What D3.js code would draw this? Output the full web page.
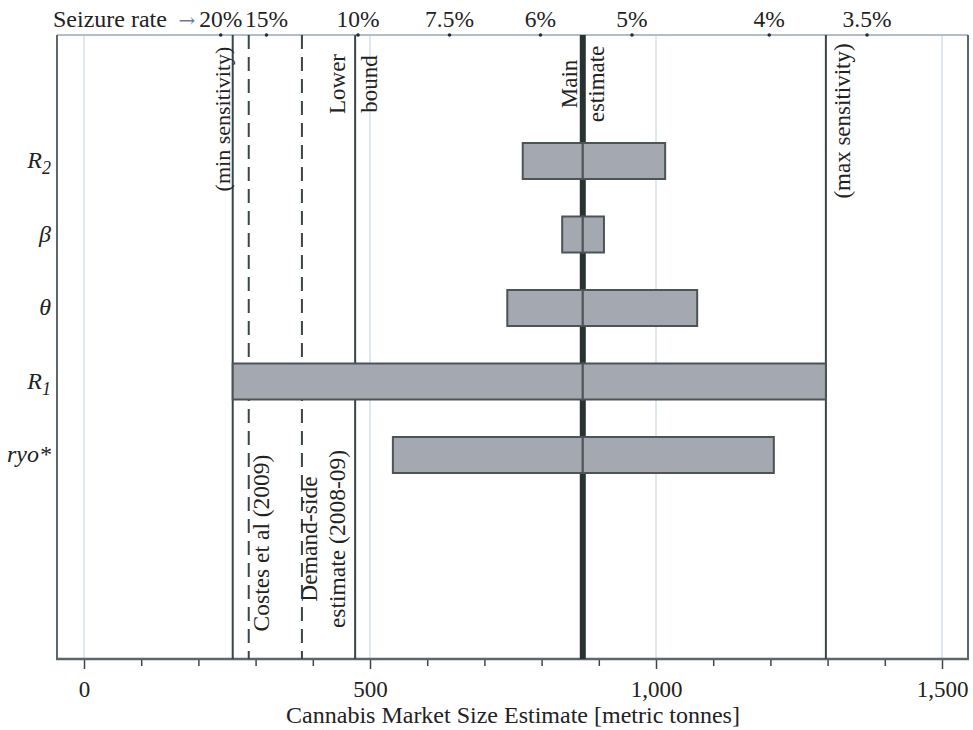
<!DOCTYPE html>
<html>
<head>
<meta charset="utf-8">
<script src="https://cdn.jsdelivr.net/npm/d3@7"></script>
<style>
  body { margin: 0; background: #fff; }
  svg text { font-family: "Liberation Serif", "DejaVu Serif", serif; fill: #222; }
</style>
</head>
<body>
<div id="chart"></div>
<script>
// parameters and their low / high market size estimates (tonnes)
var params = ['R2', 'beta', 'theta', 'R1', 'ryo'];
var paramLow = [767, 836, 740, 260, 540];
var paramHigh = [1016, 909, 1072, 1297, 1206];
var mainEstimate = 872;

// seizure-rate scale along the top (market size implied by each rate)
var seizureLabels = ['20%', '15%', '10%', '7.5%', '6%', '5%', '4%', '3.5%'];
var seizureValues = [239, 319, 479, 639, 798, 958, 1198, 1369];

// reference lines
var refNames = ['min', 'costes', 'demand', 'lower', 'max'];
var refValues = [260, 288, 381, 474, 1297];
var refDashed = [false, true, true, false, false];

var xTicks = d3.range(0, 1501, 100);
var xLabelTicks = [0, 500, 1000, 1500];

var width = 973, height = 730;
var mTop = 35, mBottom = 659, mLeft = 57, mRight = 968;

var svg = d3.select('#chart')
    .append('svg')
        .attr('width', width)
        .attr('height', height);

var x = d3.scaleLinear().domain([0, 1500]).range([84, 942]);
var y = d3.scalePoint().domain(params).range([161, 455]);

// light gridlines
svg.selectAll('.grid')
    .data(xLabelTicks)
    .enter().append('line')
        .attr('x1', d => x(d)).attr('x2', d => x(d))
        .attr('y1', mTop).attr('y2', mBottom)
        .attr('stroke', '#dfe8ef')
        .attr('stroke-width', 2);

// frame
svg.append('line')
    .attr('x1', mLeft).attr('x2', mRight)
    .attr('y1', mTop).attr('y2', mTop)
    .attr('stroke', '#b3bccb')
    .attr('stroke-width', 2);
svg.append('line')
    .attr('x1', mLeft).attr('x2', mLeft)
    .attr('y1', mTop).attr('y2', mBottom)
    .attr('stroke', '#5d666b')
    .attr('stroke-width', 2);
svg.append('line')
    .attr('x1', mRight).attr('x2', mRight)
    .attr('y1', mTop).attr('y2', mBottom)
    .attr('stroke', '#5d666b')
    .attr('stroke-width', 2);

// bottom axis
var axis = d3.axisBottom(x)
    .tickValues(xTicks)
    .tickSize(0)
    .tickFormat('');
var gx = svg.append('g')
    .attr('transform', 'translate(0,' + mBottom + ')')
    .call(axis);
gx.select('.domain').remove();
gx.selectAll('.tick').append('line')
    .attr('y2', d => xLabelTicks.indexOf(d) >= 0 ? 10 : 7)
    .attr('stroke', '#444')
    .attr('stroke-width', 1.5);
gx.selectAll('.tick')
    .filter(d => xLabelTicks.indexOf(d) >= 0)
    .append('text')
        .attr('y', 38)
        .attr('text-anchor', 'middle')
        .style('font-size', '23px')
        .style('fill', '#222')
        .text(d => d3.format(',')(d));
svg.append('line')
    .attr('x1', mLeft - 1).attr('x2', mRight + 1)
    .attr('y1', mBottom).attr('y2', mBottom)
    .attr('stroke', '#5d666b')
    .attr('stroke-width', 2.5);

svg.append('text')
    .attr('x', x(750))
    .attr('y', 723)
    .attr('text-anchor', 'middle')
    .style('font-size', '24px')
    .text('Cannabis Market Size Estimate [metric tonnes]');

// reference lines
refValues.forEach(function(v, i) {
    svg.append('line')
        .attr('x1', x(v)).attr('x2', x(v))
        .attr('y1', mTop).attr('y2', mBottom)
        .attr('stroke', '#3b4547')
        .attr('stroke-width', 2)
        .attr('stroke-dasharray', refDashed[i] ? '14,8' : null);
});

// main estimate line
svg.append('line')
    .attr('x1', x(mainEstimate)).attr('x2', x(mainEstimate))
    .attr('y1', mTop).attr('y2', mBottom)
    .attr('stroke', '#283232')
    .attr('stroke-width', 6);

// tornado bars, split at the main estimate
params.forEach(function(p, i) {
    var h = 36;
    [[paramLow[i], mainEstimate], [mainEstimate, paramHigh[i]]].forEach(function(s) {
        svg.append('rect')
            .attr('x', x(s[0]))
            .attr('y', y(p) - h / 2)
            .attr('width', x(s[1]) - x(s[0]))
            .attr('height', h)
            .attr('fill', '#a4a8b0')
            .attr('stroke', '#4c5454')
            .attr('stroke-width', 2);
    });
});

// row labels
var rowLabel = svg.selectAll('.row')
    .data(params)
    .enter().append('text')
        .attr('x', 51)
        .attr('y', d => y(d) + 7)
        .attr('text-anchor', 'end')
        .style('font-size', '24px')
        .style('font-style', 'italic');
rowLabel.each(function(d) {
    var t = d3.select(this);
    if (d === 'R2' || d === 'R1') {
        t.append('tspan').text('R');
        t.append('tspan').attr('dy', 6).style('font-size', '18px').text(d === 'R2' ? '2' : '1');
    } else if (d === 'beta') {
        t.text('\u03b2');
    } else if (d === 'theta') {
        t.text('\u03b8');
    } else {
        t.text('ryo*');
    }
});

// seizure rate ticks on the top line
svg.selectAll('.sdot')
    .data(seizureValues)
    .enter().append('circle')
        .attr('cx', d => x(d))
        .attr('cy', mTop)
        .attr('r', 1.8)
        .attr('fill', '#1f2a4a');
svg.selectAll('.slab')
    .data(seizureValues)
    .enter().append('text')
        .attr('x', d => x(d))
        .attr('y', 27)
        .attr('text-anchor', 'middle')
        .style('font-size', '23.5px')
        .text((d, i) => seizureLabels[i]);
svg.append('text')
    .attr('x', 53)
    .attr('y', 27)
    .style('font-size', '24px')
    .text('Seizure rate');
svg.append('text')
    .attr('x', 187)
    .attr('y', 27)
    .attr('text-anchor', 'middle')
    .style('font-family', 'DejaVu Serif')
    .style('font-size', '20px')
    .style('fill', '#6a7a9a')
    .text('\u2192');

// rotated annotations
function vlabel(cx, cy, lines, dx, size) {
    var t = svg.append('text')
        .attr('transform', 'translate(' + cx + ',' + cy + ') rotate(-90)')
        .attr('text-anchor', 'middle')
        .style('font-size', size + 'px');
    lines.forEach(function(l, i) {
        t.append('tspan')
            .attr('x', 0)
            .attr('y', dx[i])
            .text(l);
    });
}
vlabel(x(refValues[0]), 119, ['(min sensitivity)'], [-3], 22);
vlabel(x(refValues[3]), 84, ['Lower', 'bound'], [-10, 22], 23);
vlabel(x(mainEstimate), 84, ['Main', 'estimate'], [-6, 21], 23);
vlabel(x(refValues[4]), 121, ['(max sensitivity)'], [24], 23);
vlabel(x(refValues[1]), 543, ['Costes et al (2009)'], [20.5], 23.5);
vlabel(x(refValues[2]), 539, ['Demand-side', 'estimate (2008-09)'], [15.5, 43.5], 23.5);
</script>
</body>
</html>
